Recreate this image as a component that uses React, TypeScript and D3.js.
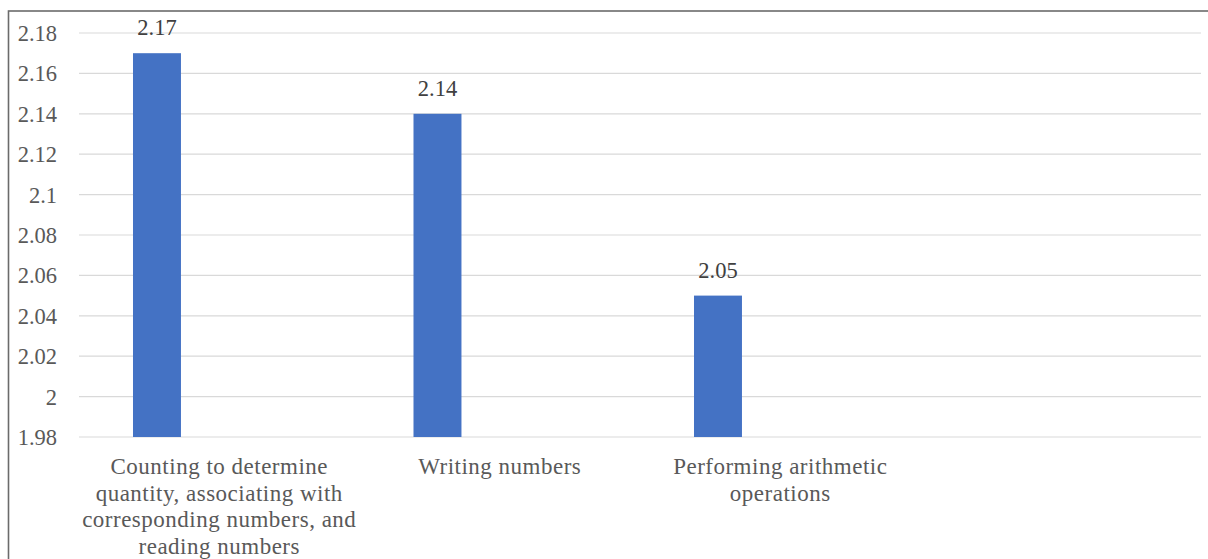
import React from 'react';
import * as d3 from 'd3';

// chart data
const categories = [
  'Counting to determine quantity, associating with corresponding numbers, and reading numbers',
  'Writing numbers',
  'Performing arithmetic operations',
  '',
];
const categoryLines = [
  ['Counting to determine', 'quantity, associating with', 'corresponding numbers, and', 'reading numbers'],
  ['Writing numbers'],
  ['Performing arithmetic', 'operations'],
  [],
];
const values = [2.17, 2.14, 2.05];
const yTicks = [1.98, 2, 2.02, 2.04, 2.06, 2.08, 2.1, 2.12, 2.14, 2.16, 2.18];

const W = 1208;
const H = 559;
const M = { left: 79, right: 7, top: 33, bottom: 122 };
const FONT = 'Liberation Serif';
const FS = 22.5;

export default function App() {
  const x = d3
    .scaleBand<string>()
    .domain(categories.map((c, i) => `${i}:${c}`))
    .range([M.left, W - M.right])
    .paddingInner(0)
    .paddingOuter(0);
  const y = d3.scaleLinear().domain([1.98, 2.18]).range([H - M.bottom, M.top]);
  const bw = x.bandwidth();
  const barW = bw * 0.171;
  const barOff = bw * 0.1925;
  const fmt = (v: number) => d3.format('')(+v.toFixed(2));

  return (
    <svg width={W} height={H} style={{ position: 'absolute', left: 0, top: 0, background: '#fff' }}>
      <rect x={8.5} y={11} width={W + 10} height={H + 10} fill="#fff" stroke="#6b6b6b" strokeWidth={1.6} />

      {/* gridlines */}
      {yTicks.map(t => (
        <line key={t} x1={M.left} x2={W - M.right} y1={y(t)} y2={y(t)} stroke="#d9d9d9" strokeWidth={1.2} />
      ))}

      {/* y tick labels */}
      {yTicks.map(t => (
        <text
          key={`l${t}`}
          x={57}
          y={y(t) + 8}
          textAnchor="end"
          fontFamily={FONT}
          fontSize={FS}
          fill="#595959"
        >
          {fmt(t)}
        </text>
      ))}

      {/* bars */}
      {values.map((v, i) => {
        const bx = (x(`${i}:${categories[i]}`) ?? 0) + barOff;
        return (
          <g key={i}>
            <rect x={bx} y={y(v)} width={barW} height={y(1.98) - y(v)} fill="#4472C4" />
            <text
              x={bx + barW / 2}
              y={y(v) - 18}
              textAnchor="middle"
              fontFamily={FONT}
              fontSize={FS}
              fill="#404040"
            >
              {fmt(v)}
            </text>
          </g>
        );
      })}

      {/* category labels */}
      {categoryLines.map((lines, i) => {
        const cx = (x(`${i}:${categories[i]}`) ?? 0) + bw / 2;
        return (
          <text
            key={`c${i}`}
            textAnchor="middle"
            fontFamily={FONT}
            fontSize={23}
            letterSpacing={0.5}
            fill="#595959"
          >
            {lines.map((ln, j) => (
              <tspan key={j} x={cx} y={H - M.bottom + 37 + j * 26.5}>
                {ln}
              </tspan>
            ))}
          </text>
        );
      })}
    </svg>
  );
}
